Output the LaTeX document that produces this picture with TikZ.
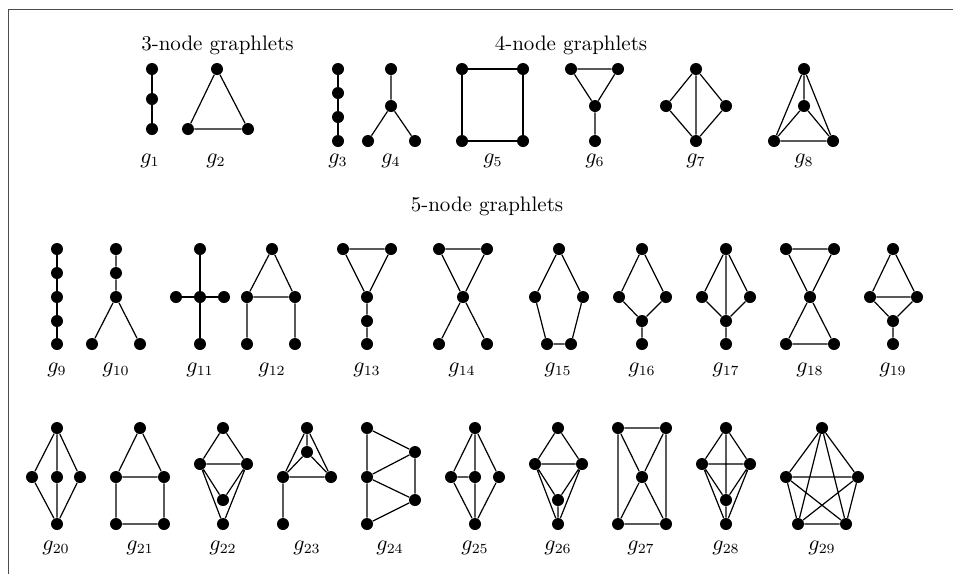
\documentclass[tikz,border=0pt]{standalone}
\begin{document}
\begin{tikzpicture}[x=0.5pt,y=-0.5pt,
  v/.style={circle,fill=black,inner sep=0pt,minimum size=6pt},
  e/.style={line width=0.6pt},
  lab/.style={inner sep=0pt,font=\fontsize{10.5}{12}\selectfont},
  frame/.style={line width=0.7pt,draw=black!70}]
\useasboundingbox (0,0) rectangle (953,574);
% frame
\coordinate (fbl) at (8.7,574);
\coordinate (ftl) at (8.7,9.3);
\coordinate (ftr) at (953,9.3);
\draw[frame] (fbl) -- (ftl) -- (ftr);

% titles
\node[lab] (t3) at (217.5,45) {3-node graphlets};
\node[lab] (t4) at (571,45) {4-node graphlets};
\node[lab] (t5) at (487,206) {5-node graphlets};

% ---------- 3-node ----------
% g1
\node[v] (g1a) at (152,69) {};
\node[v] (g1b) at (152,99) {};
\node[v] (g1c) at (152,129) {};
\draw[e] (g1a) -- (g1b) (g1b) -- (g1c);
\node[lab] (l1) at (150,161) {$g_{1}$};
% g2
\node[v] (g2a) at (217,69) {};
\node[v] (g2b) at (188,129) {};
\node[v] (g2c) at (248,129) {};
\draw[e] (g2a) -- (g2b) (g2a) -- (g2c) (g2b) -- (g2c);
\node[lab] (l2) at (216,161) {$g_{2}$};

% ---------- 4-node ----------
% g3
\node[v] (g3a) at (338,69) {};
\node[v] (g3b) at (338,93) {};
\node[v] (g3c) at (338,117) {};
\node[v] (g3d) at (338,141) {};
\draw[e] (g3a) -- (g3b) (g3b) -- (g3c) (g3c) -- (g3d);
\node[lab] (l3) at (338,161) {$g_{3}$};
% g4
\node[v] (g4a) at (391,69) {};
\node[v] (g4b) at (391,106) {};
\node[v] (g4c) at (368,141) {};
\node[v] (g4d) at (415,141) {};
\draw[e] (g4a) -- (g4b) (g4b) -- (g4c) (g4b) -- (g4d);
\node[lab] (l4) at (391,161) {$g_{4}$};
% g5
\node[v] (g5a) at (462,69) {};
\node[v] (g5b) at (523,69) {};
\node[v] (g5c) at (523,141) {};
\node[v] (g5d) at (462,141) {};
\draw[e] (g5a) -- (g5b) (g5b) -- (g5c) (g5c) -- (g5d) (g5d) -- (g5a);
\node[lab] (l5) at (493,161) {$g_{5}$};
% g6
\node[v] (g6a) at (571,69) {};
\node[v] (g6b) at (618,69) {};
\node[v] (g6c) at (595,106) {};
\node[v] (g6d) at (595,141) {};
\draw[e] (g6a) -- (g6b) (g6a) -- (g6c) (g6b) -- (g6c) (g6c) -- (g6d);
\node[lab] (l6) at (595,161) {$g_{6}$};
% g7
\node[v] (g7a) at (696,69) {};
\node[v] (g7b) at (666,106) {};
\node[v] (g7c) at (726,106) {};
\node[v] (g7d) at (696,141) {};
\draw[e] (g7a) -- (g7b) (g7a) -- (g7c) (g7a) -- (g7d) (g7b) -- (g7d) (g7c) -- (g7d);
\node[lab] (l7) at (696,161) {$g_{7}$};
% g8
\node[v] (g8a) at (804,69) {};
\node[v] (g8b) at (804,106) {};
\node[v] (g8c) at (774,141) {};
\node[v] (g8d) at (833,141) {};
\draw[e] (g8a) -- (g8b) (g8a) -- (g8c) (g8a) -- (g8d)
         (g8b) -- (g8c) (g8b) -- (g8d) (g8c) -- (g8d);
\node[lab] (l8) at (804,161) {$g_{8}$};

% ---------- 5-node, first row ----------
% g9
\node[v] (g9a) at (57,249) {};
\node[v] (g9b) at (57,273) {};
\node[v] (g9c) at (57,297) {};
\node[v] (g9d) at (57,321) {};
\node[v] (g9e) at (57,344) {};
\draw[e] (g9a) -- (g9b) (g9b) -- (g9c) (g9c) -- (g9d) (g9d) -- (g9e);
\node[lab] (l9) at (57,370) {$g_{9}$};
% g10
\node[v] (g10a) at (116,249) {};
\node[v] (g10b) at (116,273) {};
\node[v] (g10c) at (116,297) {};
\node[v] (g10d) at (92,344) {};
\node[v] (g10e) at (140,344) {};
\draw[e] (g10a) -- (g10b) (g10b) -- (g10c) (g10c) -- (g10d) (g10c) -- (g10e);
\node[lab] (l10) at (116,370) {$g_{10}$};
% g11
\node[v] (g11a) at (200,249) {};
\node[v] (g11b) at (176,297) {};
\node[v] (g11c) at (200,297) {};
\node[v] (g11d) at (224,297) {};
\node[v] (g11e) at (200,344) {};
\draw[e] (g11a) -- (g11c) (g11b) -- (g11c) (g11c) -- (g11d) (g11c) -- (g11e);
\node[lab] (l11) at (200,370) {$g_{11}$};
% g12
\node[v] (g12a) at (272,249) {};
\node[v] (g12b) at (247,297) {};
\node[v] (g12c) at (295,297) {};
\node[v] (g12d) at (247,344) {};
\node[v] (g12e) at (295,344) {};
\draw[e] (g12a) -- (g12b) (g12a) -- (g12c) (g12b) -- (g12c) (g12b) -- (g12d) (g12c) -- (g12e);
\node[lab] (l12) at (272,370) {$g_{12}$};
% g13
\node[v] (g13a) at (343,249) {};
\node[v] (g13b) at (391,249) {};
\node[v] (g13c) at (367,297) {};
\node[v] (g13d) at (367,321) {};
\node[v] (g13e) at (367,344) {};
\draw[e] (g13a) -- (g13b) (g13a) -- (g13c) (g13b) -- (g13c) (g13c) -- (g13d) (g13d) -- (g13e);
\node[lab] (l13) at (367,370) {$g_{13}$};
% g14
\node[v] (g14a) at (439,249) {};
\node[v] (g14b) at (487,249) {};
\node[v] (g14c) at (463,297) {};
\node[v] (g14d) at (439,344) {};
\node[v] (g14e) at (487,344) {};
\draw[e] (g14a) -- (g14b) (g14a) -- (g14c) (g14b) -- (g14c) (g14c) -- (g14d) (g14c) -- (g14e);
\node[lab] (l14) at (462,370) {$g_{14}$};
% g15
\node[v] (g15a) at (559,249) {};
\node[v] (g15b) at (535,297) {};
\node[v] (g15c) at (583,297) {};
\node[v] (g15d) at (547,344) {};
\node[v] (g15e) at (571,344) {};
\draw[e] (g15a) -- (g15b) (g15a) -- (g15c) (g15b) -- (g15d) (g15c) -- (g15e) (g15d) -- (g15e);
\node[lab] (l15) at (558,370) {$g_{15}$};
% g16
\node[v] (g16a) at (642,249) {};
\node[v] (g16b) at (619,297) {};
\node[v] (g16c) at (666,297) {};
\node[v] (g16d) at (642,321) {};
\node[v] (g16e) at (642,344) {};
\draw[e] (g16a) -- (g16b) (g16a) -- (g16c) (g16b) -- (g16d) (g16c) -- (g16d) (g16d) -- (g16e);
\node[lab] (l16) at (642,370) {$g_{16}$};
% g17
\node[v] (g17a) at (726,249) {};
\node[v] (g17b) at (702,297) {};
\node[v] (g17c) at (750,297) {};
\node[v] (g17d) at (726,321) {};
\node[v] (g17e) at (726,344) {};
\draw[e] (g17a) -- (g17b) (g17a) -- (g17c) (g17a) -- (g17d)
         (g17b) -- (g17d) (g17c) -- (g17d) (g17d) -- (g17e);
\node[lab] (l17) at (726,370) {$g_{17}$};
% g18
\node[v] (g18a) at (786,249) {};
\node[v] (g18b) at (834,249) {};
\node[v] (g18c) at (810,297) {};
\node[v] (g18d) at (786,344) {};
\node[v] (g18e) at (834,344) {};
\draw[e] (g18a) -- (g18b) (g18a) -- (g18c) (g18b) -- (g18c)
         (g18c) -- (g18d) (g18c) -- (g18e) (g18d) -- (g18e);
\node[lab] (l18) at (810,370) {$g_{18}$};
% g19
\node[v] (g19a) at (893,249) {};
\node[v] (g19b) at (870,297) {};
\node[v] (g19c) at (917,297) {};
\node[v] (g19d) at (893,321) {};
\node[v] (g19e) at (893,344) {};
\draw[e] (g19a) -- (g19b) (g19a) -- (g19c) (g19b) -- (g19c)
         (g19b) -- (g19d) (g19c) -- (g19d) (g19d) -- (g19e);
\node[lab] (l19) at (893,370) {$g_{19}$};

% ---------- 5-node, second row ----------
% g20
\node[v] (g20a) at (57,428) {};
\node[v] (g20b) at (32,477) {};
\node[v] (g20c) at (57,477) {};
\node[v] (g20d) at (80,477) {};
\node[v] (g20e) at (57,524) {};
\draw[e] (g20a) -- (g20b) (g20a) -- (g20c) (g20a) -- (g20d)
         (g20b) -- (g20e) (g20c) -- (g20e) (g20d) -- (g20e);
\node[lab] (l20) at (56,548) {$g_{20}$};
% g21
\node[v] (g21a) at (140,428) {};
\node[v] (g21b) at (116,477) {};
\node[v] (g21c) at (164,477) {};
\node[v] (g21d) at (116,524) {};
\node[v] (g21e) at (164,524) {};
\draw[e] (g21a) -- (g21b) (g21a) -- (g21c) (g21b) -- (g21c)
         (g21b) -- (g21d) (g21c) -- (g21e) (g21d) -- (g21e);
\node[lab] (l21) at (140,548) {$g_{21}$};
% g22
\node[v] (g22a) at (223,428) {};
\node[v] (g22b) at (200,464) {};
\node[v] (g22c) at (247,464) {};
\node[v] (g22d) at (223,500) {};
\node[v] (g22e) at (223,524) {};
\draw[e] (g22a) -- (g22b) (g22a) -- (g22c) (g22b) -- (g22c)
         (g22b) -- (g22d) (g22c) -- (g22d) (g22b) -- (g22e) (g22c) -- (g22e);
\node[lab] (l22) at (223,548) {$g_{22}$};
% g23
\node[v] (g23a) at (307,428) {};
\node[v] (g23b) at (307,452) {};
\node[v] (g23c) at (283,477) {};
\node[v] (g23d) at (331,477) {};
\node[v] (g23e) at (283,524) {};
\draw[e] (g23a) -- (g23b) (g23a) -- (g23c) (g23a) -- (g23d)
         (g23b) -- (g23c) (g23b) -- (g23d) (g23c) -- (g23d) (g23c) -- (g23e);
\node[lab] (l23) at (307,548) {$g_{23}$};
% g24
\node[v] (g24a) at (367,428) {};
\node[v] (g24b) at (367,477) {};
\node[v] (g24c) at (367,524) {};
\node[v] (g24d) at (415,452) {};
\node[v] (g24e) at (415,500) {};
\draw[e] (g24a) -- (g24b) (g24b) -- (g24c) (g24a) -- (g24d) (g24b) -- (g24d)
         (g24b) -- (g24e) (g24c) -- (g24e) (g24d) -- (g24e);
\node[lab] (l24) at (390,548) {$g_{24}$};
% g25
\node[v] (g25a) at (475,428) {};
\node[v] (g25b) at (451,477) {};
\node[v] (g25c) at (475,477) {};
\node[v] (g25d) at (499,477) {};
\node[v] (g25e) at (475,524) {};
\draw[e] (g25a) -- (g25b) (g25a) -- (g25c) (g25a) -- (g25d) (g25b) -- (g25c)
         (g25b) -- (g25e) (g25c) -- (g25e) (g25d) -- (g25e);
\node[lab] (l25) at (475,548) {$g_{25}$};
% g26
\node[v] (g26a) at (558,428) {};
\node[v] (g26b) at (535,464) {};
\node[v] (g26c) at (582,464) {};
\node[v] (g26d) at (558,500) {};
\node[v] (g26e) at (558,524) {};
\draw[e] (g26a) -- (g26b) (g26a) -- (g26c) (g26b) -- (g26c)
         (g26b) -- (g26d) (g26c) -- (g26d) (g26b) -- (g26e) (g26c) -- (g26e) (g26d) -- (g26e);
\node[lab] (l26) at (558,548) {$g_{26}$};
% g27
\node[v] (g27a) at (618,428) {};
\node[v] (g27b) at (666,428) {};
\node[v] (g27c) at (642,477) {};
\node[v] (g27d) at (618,524) {};
\node[v] (g27e) at (666,524) {};
\draw[e] (g27a) -- (g27b) (g27a) -- (g27d) (g27b) -- (g27e) (g27d) -- (g27e)
         (g27a) -- (g27c) (g27b) -- (g27c) (g27c) -- (g27d) (g27c) -- (g27e);
\node[lab] (l27) at (641,548) {$g_{27}$};
% g28
\node[v] (g28a) at (726,428) {};
\node[v] (g28b) at (702,464) {};
\node[v] (g28c) at (750,464) {};
\node[v] (g28d) at (726,500) {};
\node[v] (g28e) at (726,524) {};
\draw[e] (g28a) -- (g28b) (g28a) -- (g28c) (g28a) -- (g28d) (g28b) -- (g28c)
         (g28b) -- (g28d) (g28c) -- (g28d) (g28b) -- (g28e) (g28c) -- (g28e) (g28d) -- (g28e);
\node[lab] (l28) at (726,548) {$g_{28}$};
% g29
\node[v] (g29a) at (822,428) {};
\node[v] (g29b) at (786,477) {};
\node[v] (g29c) at (858,477) {};
\node[v] (g29d) at (798,524) {};
\node[v] (g29e) at (846,524) {};
\draw[e] (g29a) -- (g29b) (g29a) -- (g29c) (g29a) -- (g29d) (g29a) -- (g29e)
         (g29b) -- (g29c) (g29b) -- (g29d) (g29b) -- (g29e)
         (g29c) -- (g29d) (g29c) -- (g29e) (g29d) -- (g29e);
\node[lab] (l29) at (822,548) {$g_{29}$};
\end{tikzpicture}
\end{document}
